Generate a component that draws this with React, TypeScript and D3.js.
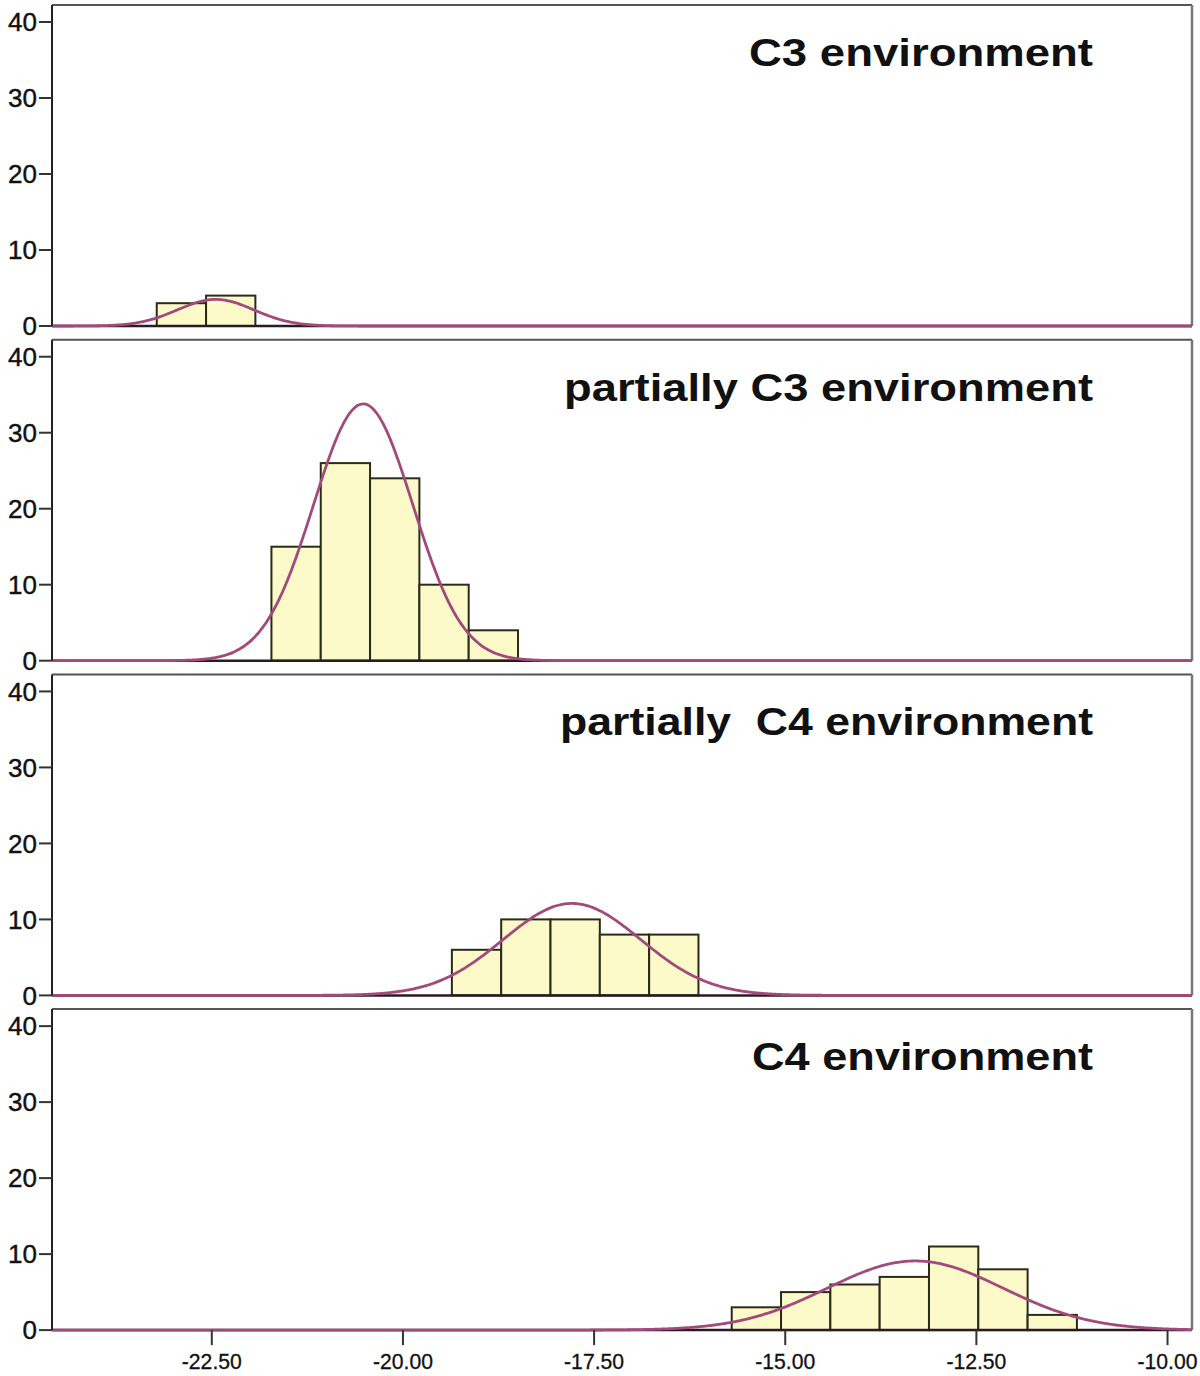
import React from "react";
import * as d3 from "d3";

// ---- data ----
const panelTitles = ["C3 environment", "partially C3 environment", "partially  C4 environment", "C4 environment"];
const titleWidths = [344, 529, 533, 341];
const binWidth = 0.645;
const binStarts = [-23.22, -21.72, -19.36, -15.7];
const countsC3 = [3, 4];
const countsPartC3 = [15, 26, 24, 10, 4];
const countsPartC4 = [6, 10, 10, 8, 8];
const countsC4 = [3, 5, 6, 7, 11, 8, 2];
const panelCounts = [countsC3, countsPartC3, countsPartC4, countsC4];
const curveMeans = [-22.45, -20.52, -17.79, -13.3];
const curveSDs = [0.5, 0.65, 0.9, 1.15];
const curvePeaks = [3.5, 33.8, 12.1, 9.1];
const yTicks = [0, 10, 20, 30, 40];
const xTicks = [-22.5, -20, -17.5, -15, -12.5, -10];
const xDomain: [number, number] = [-24.59, -9.68];
const yMax = 42.24;

const W = 1200;
const H = 1376;
const left = 52;
const right = 1192;
const panelTop0 = 5;
const panelPitch = 334.7;
const panelH = 321;

const BAR_FILL = "#fcfac8";
const BAR_STROKE = "#2b2b1c";
const CURVE = "#a34a7c";
const FONT = "'Liberation Sans', Arial, sans-serif";

export default function App() {
  const x = d3.scaleLinear().domain(xDomain).range([left, right]);
  const curveXs = d3.range(0, 601).map((i) => xDomain[0] + ((xDomain[1] - xDomain[0]) * i) / 600);
  const fmt = (t: number) => d3.format(".2f")(t).replace("\u2212", "-");

  return (
    <svg width={W} height={H} style={{ position: "absolute", left: 0, top: 0, background: "#fff" }}>
      <rect x={0} y={0} width={W} height={H} fill="#fff" />
      {panelCounts.map((counts, p) => {
        const top = panelTop0 + p * panelPitch;
        const y = d3.scaleLinear().domain([0, yMax]).range([top + panelH, top]);
        const line = d3
          .line<number>()
          .x((v) => x(v))
          .y((v) => y(curvePeaks[p] * Math.exp(-0.5 * ((v - curveMeans[p]) / curveSDs[p]) ** 2)))
          .curve(d3.curveBasis);
        return (
          <g key={p}>
            {/* frame */}
            <line x1={left} x2={right} y1={top} y2={top} stroke="#555" strokeWidth={2} />
            <line x1={right} x2={right} y1={top} y2={y(0)} stroke="#777" strokeWidth={2.5} />
            {/* bars */}
            {counts.map((c, i) => {
              const x0 = binStarts[p] + i * binWidth;
              return (
                <rect
                  key={i}
                  x={x(x0)}
                  y={y(c)}
                  width={x(x0 + binWidth) - x(x0)}
                  height={y(0) - y(c)}
                  fill={BAR_FILL}
                  stroke={BAR_STROKE}
                  strokeWidth={2}
                />
              );
            })}
            {/* zero line */}
            <line x1={left} x2={right} y1={y(0)} y2={y(0)} stroke="#2a1a22" strokeWidth={2.5} />
            {/* normal curve */}
            <path d={line(curveXs) || ""} fill="none" stroke={CURVE} strokeWidth={2.8} />
            {/* y axis */}
            <line x1={left} x2={left} y1={top} y2={y(0)} stroke="#222" strokeWidth={2} />
            {yTicks.map((t) => (
              <g key={t}>
                <line x1={left - 13} x2={left} y1={y(t)} y2={y(t)} stroke="#333" strokeWidth={2} />
                <text
                  x={37}
                  y={y(t)}
                  dy="0.36em"
                  textAnchor="end"
                  fontFamily={FONT}
                  fontSize={26}
                  fill="#111"
                  stroke="#111"
                  strokeWidth={0.4}
                >
                  {t}
                </text>
              </g>
            ))}
            {/* title */}
            <text
              x={1093}
              y={top + 61}
              textAnchor="end"
              fontFamily={FONT}
              fontWeight="bold"
              fontSize={38}
              fill="#111"
              textLength={titleWidths[p]}
              lengthAdjust="spacingAndGlyphs"
              style={{ whiteSpace: "pre" }}
            >
              {panelTitles[p]}
            </text>
            {/* x axis on the last panel */}
            {p === panelCounts.length - 1 &&
              xTicks.map((t) => (
                <g key={t}>
                  <line x1={x(t)} x2={x(t)} y1={y(0)} y2={y(0) + 15} stroke="#333" strokeWidth={2} />
                  <text
                    x={x(t)}
                    y={y(0) + 39}
                    textAnchor="middle"
                    fontFamily={FONT}
                    fontSize={22}
                    fill="#111"
                    stroke="#111"
                    strokeWidth={0.3}
                    textLength={60}
                    lengthAdjust="spacingAndGlyphs"
                  >
                    {fmt(t)}
                  </text>
                </g>
              ))}
          </g>
        );
      })}
    </svg>
  );
}
